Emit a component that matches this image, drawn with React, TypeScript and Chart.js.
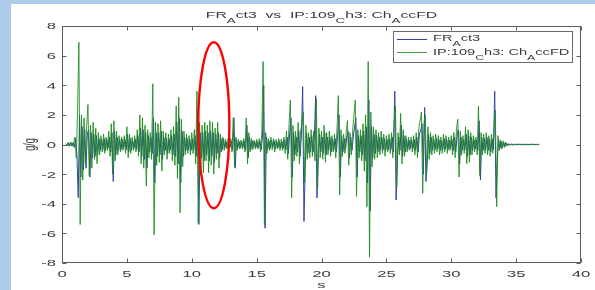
import { useEffect, useRef } from 'react';
import { Chart, registerables } from 'chart.js';

Chart.register(...registerables);

// ---------------- data ----------------
const SAMPLE_STEP = 0.1; // seconds between samples
const GREEN_START = 0.3; // IP:109_Ch3: Ch_AccFD first sample time (s)
const BLUE_START = 0.35; // FR_Act3 first sample time (s)

// IP:109_Ch3: Ch_AccFD (g/g)
const GREEN_VALUES = [
  0.06, -0.1, 0.12, -0.1, 0.15, -0.12, 0.18,
  0.5, -0.9, 2.3, 6.9, -5.4, 2.0, -2.4, 1.8, -1.3, 1.2,
  2.7, -2.1, 1.3, -1.6, 1.5, -1.0, 1.1, -1.3, 0.8, -0.7,
  0.6, -0.5, 0.7, -0.6, 0.5, -0.4, 0.9, -0.8, 1.4, -2.0,
  1.6, -1.1, 0.9, -0.7, 0.6, -0.5, 0.5, -0.4, 0.6, -0.6,
  1.2, -0.9, 0.7, -0.6, 0.5, -0.4, 0.6, -0.5, 1.0, -0.8,
  2.0, -1.3, 1.8, -1.6, 1.3, -2.8, 1.0, -0.9, 0.8, -1.0,
  4.1, -6.1, 1.5, -1.4, 1.4, -1.2, 1.6, -1.8, 0.9, -0.7,
  0.8, -1.0, 0.7, -0.6, 1.0, -1.1, 1.2, -1.4, 2.6, -2.3,
  3.2, -4.6, 1.7, -1.5, 0.9, -0.7, 0.7, -0.6, 0.6, -0.7,
  0.8, -0.6, 1.0, -1.3, 3.6, -5.3, 1.5, -1.6, 1.3, -1.9,
  1.5, -1.1, 1.3, -1.9, 1.6, -1.4, 1.5, -2.0, 1.1, -1.0,
  1.5, -1.6, 0.7, -0.5, 0.5, -0.4, 0.35, -0.3, 0.4, -0.3,
  0.4, -0.5, 1.8, -1.5, 0.5, -0.4, 0.35, -0.3, 0.3, -0.3,
  0.4, -0.5, 1.8, -1.3, 0.8, -0.5, 0.4, -0.35, 0.3, -0.3,
  0.35, -0.3, 0.4, -0.5, 0.8, 5.6, -5.4, 0.8, -0.6, 0.4,
  -0.4, 0.5, -0.35, 0.4, -0.5, 0.35, -0.3, 0.4, -0.4, 0.35,
  -0.4, 0.5, -0.6, 0.9, -1.0, 1.4, 3.0, -3.6, 1.3, -1.1,
  0.9, -0.8, 1.5, -1.3, 1.0, 1.4, 2.2, -2.6, 1.3, -1.0,
  0.8, -0.9, 1.0, -0.8, 0.9, -1.1, 3.1, -3.0, 1.1, -0.9,
  0.9, -1.0, 1.3, -1.2, 0.8, -0.7, 0.9, -0.8, 0.6, -0.5,
  0.7, -0.9, 1.2, 3.3, -3.4, 1.0, -0.8, 0.7, -0.6, 0.8,
  1.6, -1.4, 0.8, -0.7, 0.9, 2.0, 3.0, -3.5, 1.0, -0.9,
  1.0, -1.1, 1.4, -1.8, 2.0, -4.2, 5.6, -7.6, 2.2, -1.5,
  1.2, -1.0, 1.0, -0.9, 0.8, -0.7, 0.9, -0.6, 0.7, -0.8,
  0.6, -0.5, 0.7, -0.6, 0.8, -0.9, 1.6, 2.6, -2.9, 0.8,
  -0.7, 2.1, -1.3, 1.0, -0.8, 0.6, -0.5, 0.5, -0.4, 0.5,
  -0.5, 0.6, -0.7, 0.8, -0.9, 1.1, 1.6, 2.2, -3.3, 1.4,
  2.0, -2.0, 1.2, -1.0, 0.8, -0.7, 0.6, -0.6, 0.7, -0.5,
  0.6, -0.7, 0.5, -0.6, 0.7, -0.5, 0.6, -0.6, 0.5, -0.4,
  0.6, -0.7, 0.8, -0.9, 1.0, 1.7, -2.2, 0.9, -0.7, 0.6,
  -0.6, 1.2, -1.3, 1.0, -1.2, 0.8, -0.7, 0.6, -0.5, 0.5,
  -0.7, 2.6, -2.1, 0.8, -0.7, 0.7, -0.6, 0.8, -0.7, 0.6,
  -0.8, 0.7, -0.6, 0.9, 2.3, -4.2, 0.6, -0.4, 0.3, -0.3,
  0.25, -0.2, 0.15, -0.12, 0.06, -0.05, 0.04, -0.04, 0.03, -0.03,
  0.03, -0.03, 0.03, -0.02, 0.03, -0.03, 0.02, -0.02, 0.03, -0.02,
  0.02, -0.02, 0.03, -0.02, 0.02, -0.02, 0.02, -0.02, 0.01,
];

// FR_Act3 (g/g)
const BLUE_VALUES = [
  -0.08, 0.12, -0.12, 0.15, -0.1, 0.12, -0.2,
  0.4, -0.7, -3.6, 2.0, -2.2, 1.2, -1.7, 1.0, -1.6, 0.7,
  1.0, -2.2, 0.8, -0.9, 0.7, -0.8, 0.6, -0.7, 0.4, -0.4,
  0.35, -0.35, 0.4, -0.4, 0.35, -0.25, 0.5, -0.5, 0.8, -2.5,
  0.9, -0.7, 0.5, -0.4, 0.35, -0.35, 0.35, -0.25, 0.35, -0.35,
  0.7, -0.5, 0.4, -0.35, 0.25, -0.25, 0.35, -0.35, 0.6, -0.5,
  1.1, -0.8, 1.0, -1.0, 0.8, -1.6, 0.6, -0.5, 0.5, -0.6,
  1.8, -2.6, 0.8, -0.8, 0.8, -0.7, 0.9, -1.0, 0.5, -0.4,
  0.4, -0.6, 0.4, -0.35, 0.6, -0.7, 0.7, -0.8, 1.5, -1.3,
  1.8, -2.6, 0.9, -0.8, 0.5, -0.4, 0.4, -0.35, 0.35, -0.4,
  0.4, -0.35, 0.6, -0.8, 2.4, -5.4, 0.8, -0.9, 0.8, -1.1,
  0.9, -0.7, 0.8, -1.1, 0.9, -0.8, 0.8, -1.2, 0.7, -0.6,
  0.8, -0.9, 0.4, -0.35, 0.35, -0.25, 0.2, -0.2, 0.25, -0.2,
  0.25, -0.35, 1.8, -1.6, 0.35, -0.25, 0.2, -0.2, 0.2, -0.2,
  0.25, -0.35, 1.3, -0.9, 0.5, -0.35, 0.25, -0.2, 0.2, -0.2,
  0.2, -0.2, 0.25, -0.35, 0.5, 4.0, -5.65, 0.5, -0.35, 0.25,
  -0.25, 0.3, -0.2, 0.25, -0.3, 0.2, -0.2, 0.25, -0.25, 0.2,
  -0.25, 0.3, -0.35, 0.5, -0.6, 0.8, 1.8, -2.2, 0.8, -0.7,
  0.5, -0.5, 0.9, -0.8, 0.6, 3.9, -5.2, -1.3, 0.8, -0.6,
  0.5, -0.5, 0.6, -0.5, 0.5, 3.3, -3.6, -0.7, 0.7, -0.5,
  0.5, -0.6, 0.8, -0.7, 0.5, -0.4, 0.5, -0.5, 0.35, -0.35,
  0.4, -0.5, 0.7, 2.0, -2.2, 0.6, -0.5, 0.4, -0.35, 0.5,
  0.9, -0.9, 0.5, -0.4, 0.5, 1.2, 1.8, -2.2, 0.6, -0.5,
  0.6, -0.7, 0.9, -1.1, 1.2, -2.6, 3.0, -4.5, 1.2, -0.9,
  0.7, -0.6, 0.6, -0.5, 0.5, -0.4, 0.5, -0.35, 0.4, -0.4,
  0.35, -0.35, 0.4, -0.35, 0.5, -0.5, 3.6, -3.75, -0.9, 0.5,
  -0.4, 1.3, -0.8, 0.6, -0.5, 0.35, -0.35, 0.3, -0.25, 0.3,
  -0.3, 0.35, -0.4, 0.5, -0.5, 0.7, 1.0, 1.4, -2.0, 2.5,
  -2.5, -1.2, 0.7, -0.6, 0.5, -0.4, 0.35, -0.35, 0.4, -0.3,
  0.35, -0.4, 0.3, -0.35, 0.4, -0.3, 0.35, -0.35, 0.3, -0.25,
  0.35, -0.4, 0.5, -0.5, 0.6, 1.0, -1.3, 0.5, -0.4, 0.35,
  -0.35, 0.7, -0.8, 0.6, -0.7, 0.5, -0.4, 0.35, -0.3, 0.3,
  -0.4, 1.6, -2.4, 0.5, -0.4, 0.4, -0.35, 0.5, -0.4, 0.35,
  -0.5, 0.4, -0.35, 3.6, -3.6, -0.9, 0.35, -0.25, 0.2, -0.2,
  0.15, -0.12, 0.1, -0.08, 0.04, -0.03, 0.03, -0.03, 0.02, -0.02,
  0.02, -0.02, 0.02, -0.02, 0.02, -0.02, 0.02, -0.02, 0.02, -0.02,
  0.02, -0.01, 0.02, -0.01, 0.01, -0.01, 0.01, -0.01,
];

const X_TICKS = [0, 5, 10, 15, 20, 25, 30, 35, 40];
const Y_TICKS = [-8, -6, -4, -2, 0, 2, 4, 6, 8];
const X_LABEL = 's';
const Y_LABEL = 'g/g';

type Seg = [string, boolean]; // [text, isSubscript]
const TITLE: Seg[] = [['FR', false], ['A', true], ['ct3  vs  IP:109', false], ['C', true], ['h3: Ch', false], ['A', true], ['ccFD', false]];
const NAME_FR: Seg[] = [['FR', false], ['A', true], ['ct3', false]];
const NAME_IP: Seg[] = [['IP:109', false], ['C', true], ['h3: Ch', false], ['A', true], ['ccFD', false]];

// red ellipse annotation (data units)
const ELLIPSE_T = 11.7;
const ELLIPSE_V = 1.3;
const ELLIPSE_HALF_T = 1.2;
const ELLIPSE_HALF_V = 5.6;

// ---------------- styles ----------------
const BLUE = '#3444a6';
const GREEN = 'rgba(25,138,25,0.85)';
const AXIS = '#5c5c5c';
const TEXT = '#3a3a3a';
const FONT = '"Liberation Sans", Arial, sans-serif';
const SX = 1.75; // horizontal stretch of text
const SX_LEGEND = 1.62;

function segWidth(ctx: CanvasRenderingContext2D, segs: Seg[], size: number) {
  let w = 0;
  for (const [t, sub] of segs) {
    ctx.font = `${sub ? size * 0.85 : size}px ${FONT}`;
    w += ctx.measureText(t).width;
  }
  return w;
}

function drawRich(ctx: CanvasRenderingContext2D, segs: Seg[], x: number, baseline: number, size: number, align: 'left' | 'center' | 'right', sx: number = SX) {
  const w = segWidth(ctx, segs, size) * sx;
  const start = align === 'center' ? x - w / 2 : align === 'right' ? x - w : x;
  ctx.save();
  ctx.translate(start, baseline);
  ctx.scale(sx, 1);
  ctx.textBaseline = 'alphabetic';
  ctx.textAlign = 'left';
  let cx = 0;
  for (const [t, sub] of segs) {
    ctx.font = `${sub ? size * 0.85 : size}px ${FONT}`;
    ctx.fillText(t, cx, sub ? size * 0.5 : 0);
    cx += ctx.measureText(t).width;
  }
  ctx.restore();
}

const decorPlugin = {
  id: 'decor',
  afterDraw(chart: any) {
    const ctx: CanvasRenderingContext2D = chart.ctx;
    const a = chart.chartArea;
    const xs = chart.scales.x;
    const ys = chart.scales.y;
    ctx.save();

    // red ellipse
    const ecx = xs.getPixelForValue(ELLIPSE_T);
    const ecy = ys.getPixelForValue(ELLIPSE_V);
    const erx = Math.abs(xs.getPixelForValue(ELLIPSE_T + ELLIPSE_HALF_T) - ecx);
    const ery = Math.abs(ys.getPixelForValue(ELLIPSE_V + ELLIPSE_HALF_V) - ecy);
    ctx.strokeStyle = '#ff0000';
    ctx.lineWidth = 2.4;
    ctx.beginPath();
    ctx.ellipse(ecx, ecy, erx, ery, 0, 0, Math.PI * 2);
    ctx.stroke();

    // box
    ctx.strokeStyle = AXIS;
    ctx.lineWidth = 1;
    const L = Math.round(a.left) + 0.5;
    const R = Math.round(a.right) - 0.5;
    const T = Math.round(a.top) + 0.5;
    const B = Math.round(a.bottom) - 0.5;
    ctx.strokeRect(L, T, R - L, B - T);

    const TL = 4;
    ctx.beginPath();
    for (const t of xs.ticks) {
      const px = Math.round(xs.getPixelForValue(t.value)) + 0.5;
      ctx.moveTo(px, B); ctx.lineTo(px, B - TL);
      ctx.moveTo(px, T); ctx.lineTo(px, T + TL);
    }
    for (const t of ys.ticks) {
      const py = Math.round(ys.getPixelForValue(t.value)) + 0.5;
      ctx.moveTo(L, py); ctx.lineTo(L + TL, py);
      ctx.moveTo(R, py); ctx.lineTo(R - TL, py);
    }
    ctx.stroke();

    // tick labels
    ctx.fillStyle = TEXT;
    for (const t of xs.ticks) {
      drawRich(ctx, [[String(t.value), false]], xs.getPixelForValue(t.value), a.bottom + 14, 9.5, 'center');
    }
    for (const t of ys.ticks) {
      drawRich(ctx, [[String(t.value), false]], a.left - 6, ys.getPixelForValue(t.value) + 3.4, 9.5, 'right');
    }

    // axis labels
    drawRich(ctx, [[X_LABEL, false]], (a.left + a.right) / 2, a.bottom + 25, 9.5, 'center');
    ctx.save();
    ctx.translate(31, (a.top + a.bottom) / 2);
    ctx.scale(SX, 1);
    ctx.rotate(-Math.PI / 2);
    ctx.font = `9px ${FONT}`;
    ctx.textAlign = 'center';
    ctx.textBaseline = 'middle';
    ctx.fillText(Y_LABEL, 0, 0);
    ctx.restore();

    // title
    drawRich(ctx, TITLE, (a.left + a.right) / 2, 18, 9, 'center');

    // legend
    const lx = 393.5, ly = 31.5, lw = 179, lh = 31;
    ctx.fillStyle = '#ffffff';
    ctx.fillRect(lx, ly, lw, lh);
    ctx.strokeStyle = '#6a6a6a';
    ctx.lineWidth = 1;
    ctx.strokeRect(lx, ly, lw, lh);
    ctx.strokeStyle = BLUE;
    ctx.beginPath(); ctx.moveTo(397, 39.5); ctx.lineTo(427, 39.5); ctx.stroke();
    ctx.strokeStyle = GREEN;
    ctx.beginPath(); ctx.moveTo(397, 52.5); ctx.lineTo(427, 52.5); ctx.stroke();
    ctx.fillStyle = TEXT;
    drawRich(ctx, NAME_FR, 433, 41, 9, 'left', SX_LEGEND);
    drawRich(ctx, NAME_IP, 433, 55, 9, 'left', SX_LEGEND);

    ctx.restore();
  },
};

export default function App() {
  const ref = useRef<HTMLCanvasElement | null>(null);

  useEffect(() => {
    if (!ref.current) return;
    const green = GREEN_VALUES.map((v, i) => ({ x: GREEN_START + i * SAMPLE_STEP, y: v }));
    const blue = BLUE_VALUES.map((v, i) => ({ x: BLUE_START + i * SAMPLE_STEP, y: v }));
    const chart = new Chart(ref.current, {
      type: 'line',
      data: {
        datasets: [
          {
            label: 'IP:109_Ch3: Ch_AccFD',
            data: green,
            borderColor: GREEN,
            borderWidth: 1,
            pointRadius: 0,
            tension: 0,
            borderJoinStyle: 'bevel',
            fill: false,
          },
          {
            label: 'FR_Act3',
            data: blue,
            borderColor: BLUE,
            borderWidth: 1,
            pointRadius: 0,
            tension: 0,
            borderJoinStyle: 'bevel',
            fill: false,
          },
        ],
      },
      options: {
        responsive: false,
        animation: false,
        devicePixelRatio: 1,
        layout: { padding: { left: 62, top: 26, right: 14, bottom: 27 } },
        plugins: { legend: { display: false }, title: { display: false }, tooltip: { enabled: false } },
        events: [],
        scales: {
          x: {
            type: 'linear',
            min: 0,
            max: 40,
            grid: { display: false, drawTicks: false },
            border: { display: false },
            ticks: { display: false },
            afterBuildTicks: (s: any) => { s.ticks = X_TICKS.map((v) => ({ value: v })); },
            afterFit: (s: any) => { s.height = 0; },
          },
          y: {
            type: 'linear',
            min: -8,
            max: 8,
            grid: { display: false, drawTicks: false },
            border: { display: false },
            ticks: { display: false },
            afterBuildTicks: (s: any) => { s.ticks = Y_TICKS.map((v) => ({ value: v })); },
            afterFit: (s: any) => { s.width = 0; },
          },
        },
      },
      plugins: [decorPlugin],
    } as any);
    return () => chart.destroy();
  }, []);

  return (
    <div style={{ position: 'fixed', left: 0, top: 0, width: 595, height: 290, background: '#aecbec', overflow: 'hidden' }}>
      <div style={{ position: 'absolute', left: 11, top: 4, width: 584, height: 286, background: '#ffffff' }} />
      <canvas ref={ref} width={595} height={290} style={{ position: 'absolute', left: 0, top: 0 }} />
    </div>
  );
}
